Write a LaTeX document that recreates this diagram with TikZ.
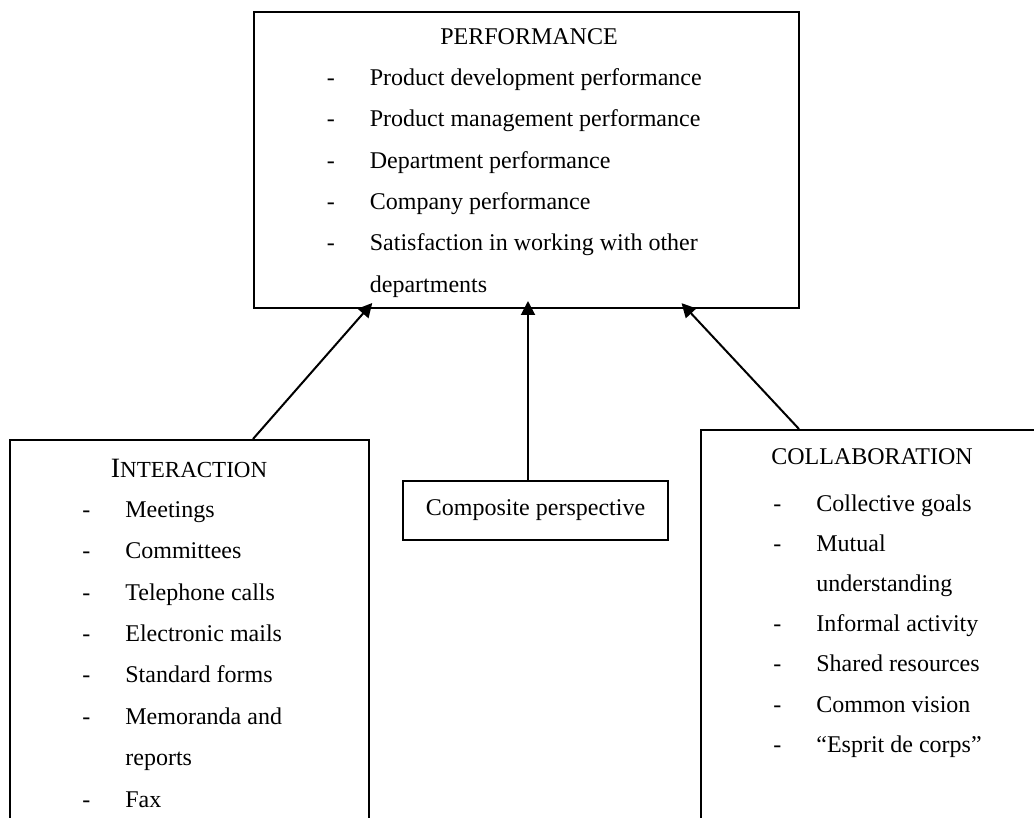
\documentclass[tikz,border=0pt]{standalone}
\usepackage{fontspec}
\setmainfont{Liberation Serif}
\usepackage{tikz}
\usetikzlibrary{arrows.meta,calc}
\newcommand\dashitem[1]{\makebox[21.5pt][l]{-}#1}
\newcommand\wrapitem[1]{\hspace*{21.5pt}#1}
\begin{document}
\begin{tikzpicture}[
  x=0.5pt,y=-0.5pt,
  every node/.style={font=\fontsize{12}{20.7}\selectfont},
  box/.style={draw,line width=1pt,inner sep=0pt},
  items/.style={anchor=north west,align=left,inner sep=0pt},
  arr/.style={-{Triangle[length=7pt,width=7pt]},line width=1pt,shorten >=-4pt}
]
\useasboundingbox (0,0) rectangle (1034,818);
\clip (0,0) rectangle (1034,818);
% boxes
\node[box,minimum width=272.5pt,minimum height=148pt] (perf) at (526.5,160) {};
\node[box,minimum width=179.5pt,minimum height=200pt] (inter) at (189.5,640) {};
\node[box,minimum width=132.5pt,minimum height=29.5pt] (comp) at (535.5,510.5) {Composite perspective};
\node[box,minimum width=174.5pt,minimum height=205pt] (collab) at (875.5,635) {};
% texts
\node (perftitle) at (529,37) {PERFORMANCE};
\node[items] (perflist) at (326.5,68) {\dashitem{Product development performance}\\
  \dashitem{Product management performance}\\
  \dashitem{Department performance}\\
  \dashitem{Company performance}\\
  \dashitem{Satisfaction in working with other}\\
  \wrapitem{departments}};
\node (intertitle) at (189,468) {{\fontsize{14}{14}\selectfont I}{\fontsize{11.5}{11.5}\selectfont NTERACTION}};
\node[items] (interlist) at (82,501) {\dashitem{Meetings}\\
  \dashitem{Committees}\\
  \dashitem{Telephone calls}\\
  \dashitem{Electronic mails}\\
  \dashitem{Standard forms}\\
  \dashitem{Memoranda and}\\
  \wrapitem{reports}\\
  \dashitem{Fax}};
\node (collabtitle) at (872,457) {COLLABORATION};
\node[items,font=\fontsize{12}{20.1}\selectfont] (collablist) at (773,494) {\dashitem{Collective goals}\\
  \dashitem{Mutual}\\
  \wrapitem{understanding}\\
  \dashitem{Informal activity}\\
  \dashitem{Shared resources}\\
  \dashitem{Common vision}\\
  \dashitem{``Esprit de corps''}};
% arrows
\draw[arr] ($(inter.north)+(63.5,0)$) -- ($(perf.south)+(-159.5,0)$);
\draw[arr] ($(comp.north)+(-7.5,0)$) -- ($(perf.south)+(1.5,0)$);
\draw[arr] ($(collab.north)+(-76.5,0)$) -- ($(perf.south)+(160.5,0)$);
\end{tikzpicture}
\end{document}
